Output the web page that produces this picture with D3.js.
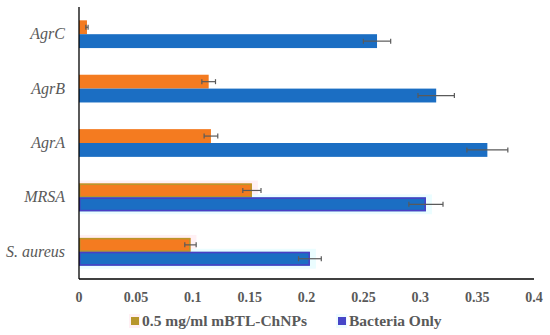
<!DOCTYPE html>
<html>
<head>
<meta charset="utf-8">
<script src="https://cdn.jsdelivr.net/npm/d3@7"></script>
<style>
  body { margin: 0; background: #fff; }
  svg { display: block; }
</style>
</head>
<body>
<div id="chart"></div>
<script>
// data
const categories = ["AgrC", "AgrB", "AgrA", "MRSA", "S. aureus"];
const treated = [0.007, 0.114, 0.116, 0.152, 0.098];
const treatedErr = [0.001, 0.006, 0.006, 0.008, 0.005];
const control = [0.262, 0.314, 0.359, 0.305, 0.203];
const controlErr = [0.012, 0.016, 0.018, 0.015, 0.010];
const seriesNames = ["0.5 mg/ml mBTL-ChNPs", "Bacteria Only"];
const xTicks = [0, 0.05, 0.1, 0.15, 0.2, 0.25, 0.3, 0.35, 0.4];
// categories drawn with the halo / outline look of the original
const haloCats = ["MRSA", "S. aureus"];

const FONT = "'Liberation Serif', 'DejaVu Serif', serif";

const width = 550, height = 335;
const margin = {top: 7, right: 15, bottom: 56, left: 79};

const svg = d3.select("#chart").append("svg")
    .attr("width", width)
    .attr("height", height);

const x = d3.scaleLinear()
    .domain([0, 0.4])
    .range([margin.left, width - margin.right - 1]);

const y = d3.scaleBand()
    .domain(categories)
    .range([margin.top, height - margin.bottom])
    .paddingInner(0.49)
    .paddingOuter(0.245);

const sub = d3.scaleBand()
    .domain([0, 1])
    .range([0, y.bandwidth()]);

const colors = ["#F47B20", "#1B6EC3"];
const outline = ["#B8962C", "#4B3FC4"];
const halo = ["#FFF0F4", "#EBFDFF"];

const rows = categories.map((c, i) => ({
    cat: c,
    vals: [
        {s: 0, v: treated[i], e: treatedErr[i]},
        {s: 1, v: control[i], e: controlErr[i]}
    ]
}));

const g = svg.append("g");

// halos behind the last two groups
rows.filter(r => haloCats.includes(r.cat)).forEach(r => {
    r.vals.forEach(d => {
        g.append("rect")
            .attr("x", x(0))
            .attr("y", y(r.cat) + sub(d.s) - 3)
            .attr("width", x(d.v) - x(0) + 6)
            .attr("height", sub.bandwidth() + 6)
            .attr("fill", halo[d.s]);
    });
});

rows.forEach(r => {
    const hl = haloCats.includes(r.cat);
    r.vals.forEach(d => {
        g.append("rect")
            .attr("x", x(0))
            .attr("y", y(r.cat) + sub(d.s))
            .attr("width", x(d.v) - x(0))
            .attr("height", sub.bandwidth())
            .attr("fill", colors[d.s]);
        if (hl) {
            g.append("rect")
                .attr("x", x(0) + 0.75)
                .attr("y", y(r.cat) + sub(d.s) + 0.75)
                .attr("width", x(d.v) - x(0) - 1.5)
                .attr("height", sub.bandwidth() - 1.5)
                .attr("fill", "none")
                .attr("stroke", outline[d.s])
                .attr("stroke-width", 1.5);
        }
        // error bar
        const cy = y(r.cat) + sub(d.s) + sub.bandwidth() / 2;
        const eb = g.append("g").attr("stroke", "#5a5a5a").attr("stroke-width", 1.2);
        eb.append("line")
            .attr("x1", x(d.v - d.e)).attr("x2", x(d.v + d.e))
            .attr("y1", cy).attr("y2", cy);
        [d.v - d.e, d.v + d.e].forEach(v => {
            eb.append("line")
                .attr("x1", x(v)).attr("x2", x(v))
                .attr("y1", cy - 2.5).attr("y2", cy + 2.5);
        });
    });
});

// axes
const axisY = height - margin.bottom;
svg.append("line")
    .attr("x1", x(0)).attr("x2", x(0.4))
    .attr("y1", axisY).attr("y2", axisY)
    .attr("stroke", "#000").attr("stroke-width", 1.3);
svg.append("line")
    .attr("x1", x(0)).attr("x2", x(0))
    .attr("y1", margin.top).attr("y2", axisY)
    .attr("stroke", "#000").attr("stroke-width", 1.3);

svg.append("g").selectAll("text")
    .data(xTicks)
    .join("text")
    .attr("x", d => x(d))
    .attr("y", axisY + 23)
    .attr("text-anchor", "middle")
    .style("font-family", FONT)
    .attr("font-weight", "bold")
    .attr("font-size", 14)
    .attr("fill", "#595959")
    .text(d => d3.format("")(d));

svg.append("g").selectAll("text")
    .data(categories)
    .join("text")
    .attr("x", 65)
    .attr("y", d => y(d) + y.bandwidth() / 2 + 5)
    .attr("text-anchor", "end")
    .style("font-family", FONT)
    .attr("font-style", "italic")
    .attr("font-size", 16)
    .attr("fill", "#595959")
    .text(d => d);

// legend
const legend = svg.append("g");
const legX = [131, 338];
const legMark = ["#B8962C", "#4646C8"];
const legHalo = ["#FFF0F4", "#EEFCFF"];
seriesNames.forEach((name, i) => {
    const lg = legend.append("g").attr("transform", `translate(${legX[i]},321)`);
    lg.append("rect").attr("x", -2).attr("y", -7).attr("width", 11).attr("height", 14)
        .attr("fill", legHalo[i]);
    lg.append("rect").attr("x", 0).attr("y", -4).attr("width", 8).attr("height", 8)
        .attr("fill", legMark[i]);
    lg.append("text")
        .attr("x", 11)
        .attr("y", 5)
        .style("font-family", FONT)
        .attr("font-weight", "bold")
        .attr("font-size", 15.5)
        .attr("fill", "#595959")
        .text(name);
});
</script>
</body>
</html>
